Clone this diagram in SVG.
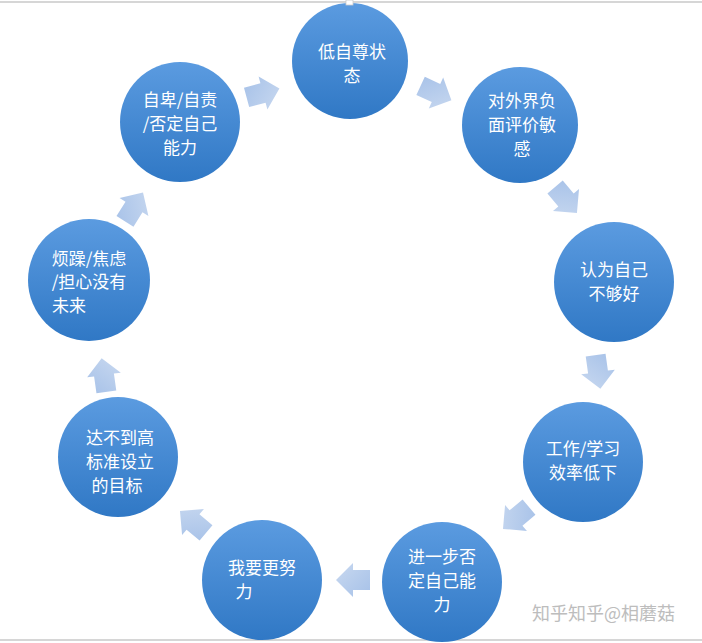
<svg xmlns="http://www.w3.org/2000/svg" width="702" height="643" viewBox="0 0 702 643">
<defs>
<linearGradient id="cg" x1="0" y1="0" x2="0" y2="1">
<stop offset="0" stop-color="#5b9be0"/>
<stop offset="1" stop-color="#3078c5"/>
</linearGradient>
<linearGradient id="ag" x1="0" y1="0" x2="1" y2="1">
<stop offset="0" stop-color="#a6c1e8"/>
<stop offset="1" stop-color="#c9d9f0"/>
</linearGradient>
<path id="arr" d="M-17,-10 L0,-10 L0,-17 L17,0 L0,17 L0,10 L-17,10 Z"/>
</defs>
<style>
.n{fill:url(#cg);}
.t{fill:#ffffff;font-family:"Noto Sans CJK SC","Liberation Sans",sans-serif;font-size:17px;text-anchor:middle;}
.a{fill:url(#ag);}
.rule{stroke:#c8c8c8;stroke-width:1.5;}
</style>
<rect width="702" height="643" fill="#ffffff"/>
<line class="rule" x1="0" y1="2" x2="702" y2="2"/>
<line class="rule" x1="0" y1="640" x2="702" y2="640"/>
<g id="connectors">
<use href="#arr" class="a" transform="translate(263,93) rotate(-15)"/>
<use href="#arr" class="a" transform="translate(436,93) rotate(25)"/>
<use href="#arr" class="a" transform="translate(566,200) rotate(50)"/>
<use href="#arr" class="a" transform="translate(598,372) rotate(82)"/>
<use href="#arr" class="a" transform="translate(516,518) rotate(140)"/>
<use href="#arr" class="a" transform="translate(353,580) rotate(180)"/>
<use href="#arr" class="a" transform="translate(193,522) rotate(-140)"/>
<use href="#arr" class="a" transform="translate(104,375) rotate(-98)"/>
<use href="#arr" class="a" transform="translate(134,207) rotate(-58)"/>
</g>
<g id="n1"><circle class="n" cx="350" cy="61" r="58"/>
<text class="t" x="352" y="58">低自尊状</text><text class="t" x="352" y="82">态</text></g>
<g id="n2"><circle class="n" cx="520" cy="125" r="58"/>
<text class="t" x="522" y="107">对外界负</text><text class="t" x="522" y="131">面评价敏</text><text class="t" x="522" y="155">感</text></g>
<g id="n3"><circle class="n" cx="614" cy="282" r="60"/>
<text class="t" x="614" y="276">认为自己</text><text class="t" x="614" y="300">不够好</text></g>
<g id="n4"><circle class="n" cx="583" cy="462" r="60"/>
<text class="t" x="583" y="455">工作/学习</text><text class="t" x="583" y="479">效率低下</text></g>
<g id="n5"><circle class="n" cx="442" cy="582" r="60"/>
<text class="t" x="442" y="563">进一步否</text><text class="t" x="442" y="587">定自己能</text><text class="t" x="442" y="611">力</text></g>
<g id="n6"><circle class="n" cx="262" cy="580" r="60"/>
<text class="t" x="262" y="574">我要更努</text><text class="t" x="244" y="598">力</text></g>
<g id="n7"><circle class="n" cx="118" cy="457" r="60"/>
<text class="t" x="120" y="444">达不到高</text><text class="t" x="120" y="468">标准设立</text><text class="t" x="117" y="492">的目标</text></g>
<g id="n8"><circle class="n" cx="89" cy="280" r="61"/>
<text class="t" x="89" y="265">烦躁/焦虑</text><text class="t" x="89" y="288">/担心没有</text><text class="t" x="69" y="312">未来</text></g>
<g id="n9"><circle class="n" cx="180" cy="122" r="60"/>
<text class="t" x="180" y="106">自卑/自责</text><text class="t" x="180" y="130">/否定自己</text><text class="t" x="180" y="154">能力</text></g>
<rect x="346" y="0" width="7" height="5" fill="#ffffff" stroke="#cccccc" stroke-width="0.8"/>
<text x="532" y="620" fill="#bdbdbd" font-family="Noto Sans CJK SC,sans-serif" font-size="18">知乎知乎@相蘑菇</text>
</svg>
